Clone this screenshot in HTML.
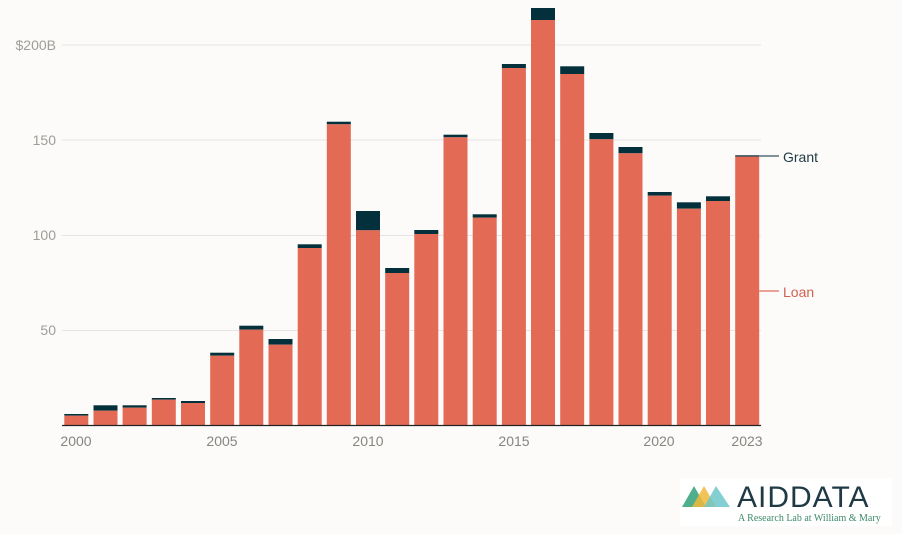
<!DOCTYPE html>
<html><head><meta charset="utf-8"><style>
html,body{margin:0;padding:0;background:#fcfbfa;}
svg{display:block;font-family:"Liberation Sans",sans-serif;}
</style></head><body>
<svg width="902" height="534" viewBox="0 0 902 534" xmlns="http://www.w3.org/2000/svg">
<rect width="902" height="534" fill="#fcfbfa"/>
<g stroke="#e6e4e2" stroke-width="1">
<line x1="62" y1="45" x2="761" y2="45"/>
<line x1="62" y1="140" x2="761" y2="140"/>
<line x1="62" y1="235.5" x2="761" y2="235.5"/>
<line x1="62" y1="330.5" x2="761" y2="330.5"/>
</g>
<g fill="#a09c98" font-size="14" text-anchor="end">
<text x="56" y="50">$200B</text>
<text x="56" y="145">150</text>
<text x="56" y="240">100</text>
<text x="56" y="335">50</text>
</g>
<g id="bars"></g>
<line x1="62" y1="425.5" x2="761" y2="425.5" stroke="#222" stroke-width="1.3"/>
<g fill="#888480" font-size="14" text-anchor="middle">
<text x="76" y="446">2000</text>
<text x="222" y="446">2005</text>
<text x="368" y="446">2010</text>
<text x="514" y="446">2015</text>
<text x="659" y="446">2020</text>
<text x="747" y="446">2023</text>
</g>
<line x1="759" y1="156" x2="779" y2="156" stroke="#7f9298" stroke-width="2"/>
<text x="783" y="162" font-size="14" fill="#1f3a44">Grant</text>
<line x1="759" y1="291" x2="779" y2="291" stroke="#eba397" stroke-width="2"/>
<text x="783" y="297" font-size="14" fill="#d0614f">Loan</text>
<rect x="680" y="478" width="212" height="48" fill="#ffffff"/>
<polygon points="682,507 694,486 706,507" fill="#4fae8c"/>
<polygon points="692,507 704,486 716,507" fill="#f0b93a" opacity="0.85"/>
<polygon points="704,507 716,486 730,507" fill="#6fc7c9" opacity="0.85"/>
<text x="737" y="507" font-size="30" fill="#1f3a44" letter-spacing="1">AIDDATA</text>
<text x="738" y="521" font-size="10" fill="#3d8a6a" font-family="Liberation Serif,serif">A Research Lab at William &amp; Mary</text>
</svg>
<script>
var d=[[414,415.7],[405.3,410.7],[405.3,407.7],[398,399.7],[401,403],[352.7,355.7],[325.7,329.7],[339,344.7],[244.3,248],[121.7,124.3],[211,230.3],[268,273],[230,234],[134.7,137.3],[214.3,217.7],[64,68],[8,20],[66.3,74],[133,139.3],[147,153.3],[192,195.7],[202.3,208.7],[196.3,201],[155.3,156.6]];
var g=document.getElementById('bars'),s='';
d.forEach(function(v,i){var x=64.3+i*29.17;
s+='<rect x="'+x.toFixed(1)+'" y="'+v[0]+'" width="24" height="'+(v[1]-v[0]).toFixed(1)+'" fill="#04303b"/>';
s+='<rect x="'+x.toFixed(1)+'" y="'+v[1]+'" width="24" height="'+(425-v[1]).toFixed(1)+'" fill="#e36a55"/>';});
g.innerHTML=s;
</script>
</body></html>
